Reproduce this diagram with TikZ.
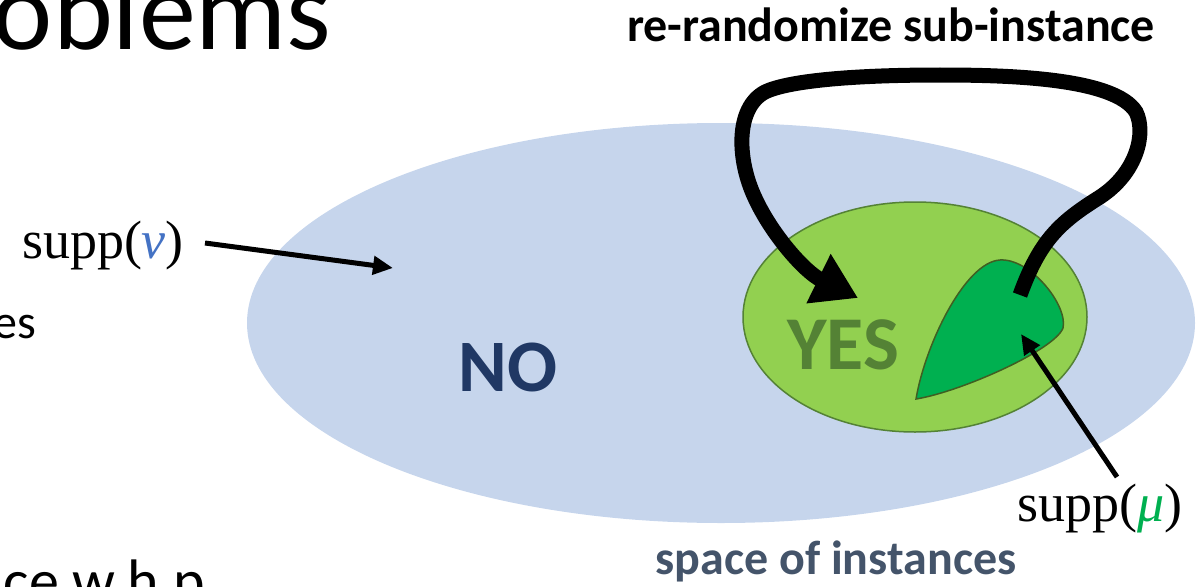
\documentclass[tikz,border=0pt]{standalone}
\usepackage{fontspec}
\setmainfont{Carlito}
\newfontfamily\labelserif{Liberation Serif}
\usetikzlibrary{arrows.meta}
\definecolor{bigblue}{HTML}{C6D5EC}
\definecolor{lightgreen}{HTML}{92D050}
\definecolor{darkgreenline}{HTML}{548235}
\definecolor{blobgreen}{HTML}{00B050}
\definecolor{blobline}{HTML}{3F5F22}
\definecolor{nocolor}{HTML}{203864}
\definecolor{yescolor}{HTML}{548235}
\definecolor{spacecolor}{HTML}{44546A}
\definecolor{nucolor}{HTML}{4472C4}
\definecolor{mucolor}{HTML}{00B050}
\tikzset{
  plain/.style={inner sep=0pt, outer sep=0pt},
  slidetext/.style={plain, anchor=base west, font=\fontsize{48}{54}\selectfont},
  mathlabel/.style={plain, anchor=base west, font=\labelserif\fontsize{54}{60}\selectfont},
  boldlabel/.style={plain, anchor=base, font=\bfseries\fontsize{48}{54}\selectfont},
  thinarrow/.style={line width=5pt, -{Triangle[length=20pt,width=18pt]}},
  loopline/.style={line width=15pt, -{Triangle[length=44pt,width=52pt]}}
}
\begin{document}
\begin{tikzpicture}[x=1pt,y=-1pt]
\useasboundingbox (0,0) rectangle (1196,586);
\clip (0,0) rectangle (1196,586);
% slide text fragments
\node[plain, anchor=base west, font=\fontsize{114}{120}\selectfont] (title) at (-7,50) {oblems};
\node[slidetext] (es) at (-6,338) {es};
\node[plain, anchor=base west, font=\fontsize{60}{66}\selectfont] (whp) at (4,601) {ce w.h.p.};
% big ellipse
\fill[bigblue] (721,323) ellipse [x radius=474, y radius=200];
\coordinate (nupoint) at (393,268);
\node[plain, font=\bfseries\fontsize{74}{84}\selectfont, text=nocolor] (no) at (508,367) {NO};
% green ellipse
\draw[fill=lightgreen, draw=darkgreenline, line width=1.5pt] (915,317) ellipse [x radius=172, y radius=115];
\node[plain, font=\bfseries\fontsize{76}{86}\selectfont, text=yescolor] (yes) at (843,345) {YES};
% blob
\draw[fill=blobgreen, draw=blobline, line width=1.5pt]
  (916,399) .. controls (925,345) and (965,262) .. (1000,260)
  .. controls (1030,258) and (1068,305) .. (1063,328)
  .. controls (1055,350) and (960,392) .. (916,399) -- cycle;
\coordinate (mupoint) at (1021,334);
\coordinate (loopstart) at (1020,295);
\coordinate (looptip) at (858,298);
% labels
\node[mathlabel] (nulabel) at (22,258) {supp(\textcolor{nucolor}{\itshape ν})};
\node[mathlabel] (mulabel) at (1017,521) {supp(\textcolor{mucolor}{\itshape μ})};
\node[boldlabel] (rr) at (891,42) {re-randomize sub-instance};
\node[boldlabel, text=spacecolor] (space) at (836,574) {space of instances};
% arrows
\coordinate (nustart) at (205,243);
\draw[thinarrow] (nustart) -- (nupoint);
\coordinate (mustart) at (1117,477);
\draw[thinarrow] (mustart) -- (mupoint);
\draw[loopline] (loopstart)
  .. controls (1040,240) and (1060,222) .. (1100,197)
  .. controls (1138,172) and (1146,132) .. (1136,112)
  .. controls (1115,78) and (1010,75) .. (940,75)
  .. controls (860,75) and (790,80) .. (765,92)
  .. controls (735,108) and (737,160) .. (755,198)
  .. controls (772,235) and (805,272) .. (looptip);
\end{tikzpicture}
\end{document}
